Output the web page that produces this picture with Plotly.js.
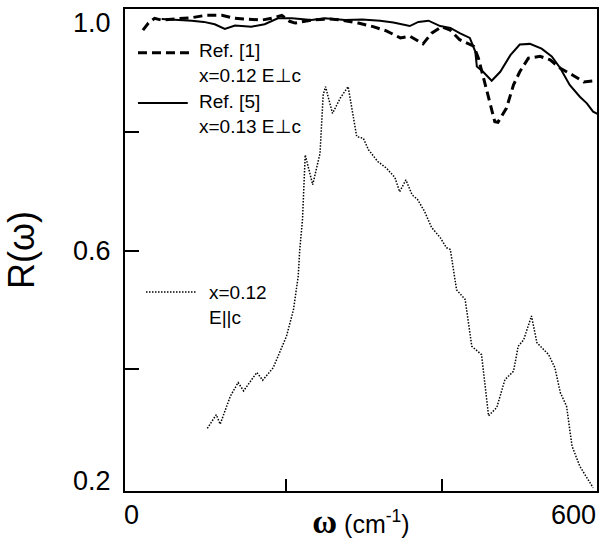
<!DOCTYPE html>
<html>
<head>
<meta charset="utf-8">
<script src="https://cdn.plot.ly/plotly-3.0.1.min.js"></script>
<style>html,body{margin:0;padding:0;background:#fff;}</style>
</head>
<body>
<div id="chart" style="width:607px;height:544px;"></div>
<script>
// Ref. [1], x=0.12, E perpendicular c (dashed)
const omegaRef1 = [17,24,32,41,58,79,97,118,135,152,169,182,195,205,212,233,255,272,293,312,329,347,359,376,387,400,411,423,441,447,456,462,468,472,483,492,500,511,526,539,552,567,582,598];
const rRef1 = [0.971,0.983,0.991,0.988,0.990,0.992,0.996,0.996,0.991,0.990,0.988,0.991,0.996,0.986,0.983,0.988,0.990,0.988,0.983,0.977,0.970,0.958,0.961,0.948,0.966,0.977,0.971,0.955,0.944,0.924,0.879,0.851,0.817,0.816,0.840,0.879,0.901,0.924,0.927,0.921,0.907,0.896,0.884,0.886];

// Ref. [5], x=0.13, E perpendicular c (solid)
const omegaRef5 = [41,60,79.5,95,109,122,135,156,173,190,208,233,250,276,298,321,338,359,370,383,398,411,423,436,443,445,453,464,475,488,500,513,528,541,552,564,577,586,594,600];
const rRef5 = [0.990,0.989,0.987,0.985,0.981,0.973,0.979,0.977,0.981,0.991,0.991,0.988,0.991,0.988,0.989,0.987,0.984,0.978,0.985,0.987,0.978,0.975,0.966,0.958,0.935,0.910,0.901,0.886,0.901,0.929,0.947,0.948,0.940,0.927,0.907,0.879,0.859,0.848,0.834,0.830];

// x=0.12, E parallel c (dotted)
const omegaPar = [99.5,111,116,129,139,146,163,170.5,184,201,210,216,218,221.5,225,234.6,244,248,251,260,270,280,291,299.5,306,318,329,340,346,354,362,369,378,387,398,406,411,419,430,438.5,451,460,470.5,481,492,498,505,515,522,537,545,552,560,567,577,594];
const rPar = [0.301,0.324,0.308,0.355,0.378,0.364,0.395,0.382,0.403,0.456,0.501,0.557,0.602,0.652,0.761,0.711,0.764,0.862,0.876,0.831,0.857,0.876,0.792,0.789,0.770,0.750,0.739,0.723,0.699,0.719,0.694,0.686,0.666,0.639,0.622,0.605,0.602,0.534,0.518,0.439,0.425,0.322,0.336,0.383,0.397,0.439,0.450,0.490,0.445,0.425,0.403,0.361,0.338,0.271,0.237,0.201];

// inner tick marks (the ends of each range sit on the frame)
const xTickVals = [200, 400];
const yTickVals = [0.4, 0.6, 0.8];
// tick labels
const xTickLabels = ['0', '600'];
const xTickLabelVals = [0, 599];
const yTickLabels = ['0.2', '0.6', '1.0'];
const yTickLabelVals = [0.2, 0.6, 1.0];

const legendLabels = ['Ref. [1]<br>x=0.12 E⊥c', 'Ref. [5]<br>x=0.13 E⊥c', 'x=0.12<br>E||c'];

const FONT = 'Arial, "Liberation Sans", Helvetica, sans-serif';

const traces = [
  {x: omegaRef1, y: rRef1, mode: 'lines', name: legendLabels[0],
   line: {color: '#000', width: 3, dash: '9px,5px'}},
  {x: omegaRef5, y: rRef5, mode: 'lines', name: legendLabels[1],
   line: {color: '#000', width: 2}},
  {x: omegaPar, y: rPar, mode: 'lines', name: legendLabels[2],
   line: {color: '#000', width: 1.5, dash: '1.5px,1.5px'}}
];

const annotations = [];
const yShift = [7, 0, -10];
yTickLabelVals.forEach((v, i) => {
  annotations.push({xref: 'paper', yref: 'y', x: -0.025, y: v, xanchor: 'right', yanchor: 'middle',
    yshift: yShift[i], text: yTickLabels[i], showarrow: false, font: {family: FONT, size: 27, color: '#000'}});
});
const xShift = [2, -24];
xTickLabelVals.forEach((v, i) => {
  annotations.push({xref: 'x', yref: 'paper', x: v, y: -0.05, xanchor: 'center', yanchor: 'middle',
    xshift: xShift[i], text: xTickLabels[i], showarrow: false, font: {family: FONT, size: 27, color: '#000'}});
});
const legTextFont = {family: FONT, size: 19, color: '#000'};
const legPos = [
  {x: 0.1525, y: 0.887},
  {x: 0.1525, y: 0.783},
  {x: 0.1737, y: 0.386}
];
legendLabels.forEach((t, i) => {
  annotations.push({xref: 'paper', yref: 'paper', x: legPos[i].x, y: legPos[i].y, xanchor: 'left', yanchor: 'middle',
    align: 'left', text: t, showarrow: false, font: legTextFont});
});

const shapes = [
  {type: 'line', xref: 'paper', yref: 'paper', x0: 0.0275, x1: 0.142, y0: 0.909, y1: 0.909,
   line: {color: '#000', width: 3, dash: '9px,5px'}},
  {type: 'line', xref: 'paper', yref: 'paper', x0: 0.0275, x1: 0.133, y0: 0.805, y1: 0.805,
   line: {color: '#000', width: 2}},
  {type: 'line', xref: 'paper', yref: 'paper', x0: 0.0445, x1: 0.150, y0: 0.413, y1: 0.413,
   line: {color: '#000', width: 1.5, dash: '1.5px,1.5px'}}
];

const layout = {
  width: 607, height: 544,
  margin: {l: 125, r: 10, t: 9, b: 53},
  paper_bgcolor: '#fff', plot_bgcolor: '#fff',
  showlegend: false,
  font: {family: FONT, color: '#000'},
  xaxis: {
    range: [-6, 599], tickvals: xTickVals, showticklabels: false,
    ticks: 'inside', ticklen: 12, tickwidth: 2, tickcolor: '#000',
    showline: true, linewidth: 2, linecolor: '#000', mirror: true,
    showgrid: false, zeroline: false,
    title: {text: '<span style="font-family:\'Liberation Serif\',\'Times New Roman\',serif;font-size:34px;font-weight:bold">ω</span> (cm<sup>-1</sup>)',
            font: {family: FONT, size: 25, color: '#000'}, standoff: 23}
  },
  yaxis: {
    range: [0.1955, 1.0067], tickvals: yTickVals, showticklabels: false,
    ticks: 'inside', ticklen: 14, tickwidth: 2, tickcolor: '#000',
    showline: true, linewidth: 2, linecolor: '#000', mirror: true,
    showgrid: false, zeroline: false,
    title: {text: 'R(ω)', font: {family: FONT, size: 36, color: '#000'}, standoff: 77}
  },
  annotations: annotations,
  shapes: shapes
};

Plotly.newPlot('chart', traces, layout, {staticPlot: true, displayModeBar: false});
</script>
</body>
</html>
